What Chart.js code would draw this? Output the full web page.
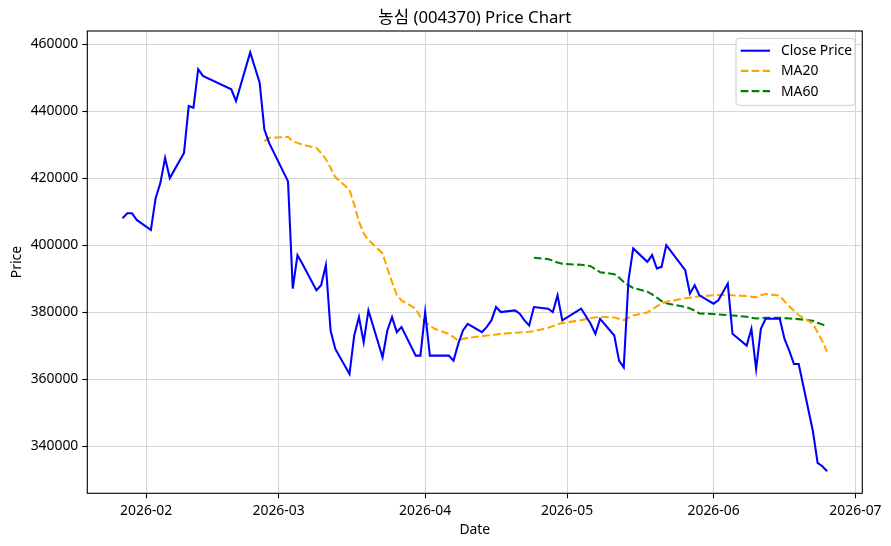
<!DOCTYPE html>
<html><head><meta charset="utf-8">
<script src="https://cdn.jsdelivr.net/npm/chart.js@4.4.1/dist/chart.umd.min.js"></script>
<style>html,body{margin:0;padding:0;background:#fff;}#c{display:block;}</style>
</head><body>
<canvas id="c" width="891" height="546"></canvas>
<script>
const titleText = '농심 (004370) Price Chart';
const xAxisTitle = 'Date';
const yAxisTitle = 'Price';
const seriesLabels = ['Close Price', 'MA20', 'MA60'];

const dates = [
 '2026-01-27','2026-01-28','2026-01-29','2026-01-30',
 '2026-02-02','2026-02-03','2026-02-04','2026-02-05','2026-02-06',
 '2026-02-09','2026-02-10','2026-02-11','2026-02-12','2026-02-13',
 '2026-02-19','2026-02-20','2026-02-23','2026-02-24','2026-02-25','2026-02-26','2026-02-27',
 '2026-03-03','2026-03-04','2026-03-05','2026-03-06',
 '2026-03-09','2026-03-10','2026-03-11','2026-03-12','2026-03-13',
 '2026-03-16','2026-03-17','2026-03-18','2026-03-19','2026-03-20',
 '2026-03-23','2026-03-24','2026-03-25','2026-03-26','2026-03-27',
 '2026-03-30','2026-03-31','2026-04-01','2026-04-02','2026-04-03',
 '2026-04-06','2026-04-07','2026-04-08','2026-04-09','2026-04-10',
 '2026-04-13','2026-04-14','2026-04-15','2026-04-16','2026-04-17',
 '2026-04-20','2026-04-21','2026-04-22','2026-04-23','2026-04-24',
 '2026-04-27','2026-04-28','2026-04-29','2026-04-30',
 '2026-05-04','2026-05-06','2026-05-07','2026-05-08',
 '2026-05-11','2026-05-12','2026-05-13','2026-05-14','2026-05-15',
 '2026-05-18','2026-05-19','2026-05-20','2026-05-21','2026-05-22',
 '2026-05-26','2026-05-27','2026-05-28','2026-05-29',
 '2026-06-01','2026-06-02','2026-06-04','2026-06-05',
 '2026-06-08','2026-06-09','2026-06-10','2026-06-11','2026-06-12',
 '2026-06-15','2026-06-16','2026-06-17','2026-06-18','2026-06-19',
 '2026-06-22','2026-06-23','2026-06-24','2026-06-25'
];

const closePrice = [
 408000,409500,409500,407500,
 404500,414000,418500,426000,420000,
 427500,441500,441000,452500,450500,
 446500,443000,457500,453000,448500,434500,430500,
 419000,387000,397000,394500,
 386500,388000,394000,374500,369000,
 361500,373000,378500,371000,380500,
 366500,374500,378500,374000,375500,
 367000,367000,380000,367000,367000,
 367000,365500,370500,374500,376500,
 374000,375500,377500,381500,380000,
 380500,379500,377500,376000,381500,
 381000,380000,385000,377500,
 381000,376500,373500,378000,
 373000,365500,363500,389500,399000,
 395000,397000,393000,393500,400000,
 392500,385500,388000,385000,
 382500,383500,388500,373500,
 370000,375000,363000,375000,378000,
 378000,372000,368500,364500,364500,
 344500,335000,334000,332500
];

// MA20 begins on the 20th trading day (2026-02-26)
const ma20StartIndex = 19;
const ma20 = [
 431000,432000,
 432300,431000,430500,430000,
 429000,427500,425700,423000,420300,
 416500,412000,407000,403500,401500,
 397500,393000,389000,385100,383500,
 381000,378500,377000,376000,375000,
 373500,372500,371500,372000,372300,
 372800,373000,373100,373300,373500,
 373800,373900,374000,374100,374300,
 375300,375800,376300,376700,
 377600,378200,378400,378600,
 378400,378000,377600,378300,379000,
 379900,380800,381700,382500,383100,
 384100,384300,384500,384700,
 385000,385100,385100,385000,
 384800,384600,384400,385000,385400,
 384900,383200,381700,380400,379100,
 376500,374000,371300,368200
];

// MA60 begins on the 60th trading day (2026-04-24)
const ma60StartIndex = 59;
const ma60 = [
 396200,
 395800,395300,394800,394400,
 394100,393700,392800,391900,
 391300,390300,389000,388000,387200,
 386100,385300,384300,383300,382600,
 381500,381100,380400,379600,
 379400,379300,379100,379000,
 378600,378300,378100,378200,378300,
 378300,378200,378100,378000,377900,
 377400,376800,376300,375800
];

const xTickDates = ['2026-02-01','2026-03-01','2026-04-01','2026-05-01','2026-06-01','2026-07-01'];
const xTickLabels = ['2026-02','2026-03','2026-04','2026-05','2026-06','2026-07'];
const yTicks = [340000,360000,380000,400000,420000,440000,460000];
const yMin = 325900, yMax = 463900;

const colors = ['#0000ff', '#ffa500', '#008000'];
const FONT = "'Noto Sans','Noto Sans CJK KR',sans-serif";

function dayNum(s){ const [y,m,d] = s.split('-').map(Number); return Date.UTC(y,m-1,d)/86400000; }

const xs = dates.map(dayNum);
const span = xs[xs.length-1] - xs[0];
const xMin = xs[0] - 0.05*span, xMax = xs[xs.length-1] + 0.05*span;

const closePts = closePrice.map((v,i)=>({x:xs[i], y:v}));
const ma20Pts = ma20.map((v,i)=>({x:xs[ma20StartIndex+i], y:v}));
const ma60Pts = ma60.map((v,i)=>({x:xs[ma60StartIndex+i], y:v}));

const LW = 2.08, DASH = [7.7, 3.3];

const framePlugin = {
  id: 'frameTitleLegend',
  afterDraw(chart){
    const {ctx, chartArea:a} = chart;
    ctx.save();
    // axes frame
    ctx.strokeStyle = '#000'; ctx.lineWidth = 1.1;
    ctx.strokeRect(a.left, a.top, a.right-a.left, a.bottom-a.top);
    // title
    ctx.fillStyle = '#000';
    ctx.font = '16.7px ' + FONT;
    ctx.textAlign = 'center'; ctx.textBaseline = 'alphabetic';
    ctx.fillText(titleText, (a.left+a.right)/2, a.top - 8.3);
    // legend
    const bw = 119, bh = 67;
    const bx = a.right - 7.3 - bw, by = a.top + 7.3;
    ctx.beginPath();
    if (ctx.roundRect) ctx.roundRect(bx, by, bw, bh, 3); else ctx.rect(bx, by, bw, bh);
    ctx.fillStyle = 'rgba(255,255,255,0.8)'; ctx.fill();
    ctx.strokeStyle = '#cccccc'; ctx.lineWidth = 1; ctx.stroke();
    ctx.font = '13.9px ' + FONT;
    ctx.textAlign = 'left'; ctx.textBaseline = 'middle';
    chart.data.datasets.forEach((ds, i) => {
      const yy = by + 12.4 + i*20.2;
      ctx.beginPath();
      ctx.strokeStyle = ds.borderColor; ctx.lineWidth = LW;
      ctx.setLineDash(ds.borderDash || []);
      ctx.moveTo(bx + 4.7, yy); ctx.lineTo(bx + 34, yy); ctx.stroke();
      ctx.setLineDash([]);
      ctx.fillStyle = '#000';
      ctx.fillText(ds.label, bx + 45, yy + 0.5);
    });
    ctx.restore();
  }
};

new Chart(document.getElementById('c'), {
  type: 'line',
  data: {
    datasets: [
      {label: seriesLabels[0], data: closePts, borderColor: colors[0], backgroundColor: colors[0], borderWidth: LW, pointRadius: 0, tension: 0, fill: false},
      {label: seriesLabels[1], data: ma20Pts, borderColor: colors[1], backgroundColor: colors[1], borderWidth: LW, borderDash: DASH, pointRadius: 0, tension: 0, fill: false},
      {label: seriesLabels[2], data: ma60Pts, borderColor: colors[2], backgroundColor: colors[2], borderWidth: LW, borderDash: DASH, pointRadius: 0, tension: 0, fill: false}
    ]
  },
  options: {
    responsive: false,
    animation: false,
    devicePixelRatio: 1,
    layout: {padding: {left: 0, top: 31, right: 28.7, bottom: 0}},
    font: {family: FONT},
    plugins: {legend: {display: false}, title: {display: false}, tooltip: {enabled: false}},
    scales: {
      x: {
        type: 'linear', min: xMin, max: xMax,
        afterBuildTicks: (s) => { s.ticks = xTickDates.map(d => ({value: dayNum(d)})); },
        afterFit: (s) => { s.height = 546 - 493.3; },
        ticks: {
          autoSkip: false, maxRotation: 0, padding: 4.5, color: '#000',
          font: {family: FONT, size: 13.9},
          callback: (v) => { const i = xTickDates.map(dayNum).indexOf(v); return i >= 0 ? xTickLabels[i] : ''; }
        },
        grid: {color: '#d6d6d6', lineWidth: 1, tickColor: '#000', tickLength: 5, tickWidth: 1.1},
        border: {display: false},
        title: {display: true, text: xAxisTitle, color: '#000', font: {family: FONT, size: 13.9}, padding: {top: 0, bottom: 8}}
      },
      y: {
        type: 'linear', min: yMin, max: yMax,
        afterBuildTicks: (s) => { s.ticks = yTicks.map(v => ({value: v})); },
        afterFit: (s) => { s.width = 87.3; },
        ticks: {
          padding: 4, color: '#000',
          font: {family: FONT, size: 13.9},
          callback: (v) => String(v)
        },
        grid: {color: '#d6d6d6', lineWidth: 1, tickColor: '#000', tickLength: 5, tickWidth: 1.1},
        border: {display: false},
        title: {display: true, text: yAxisTitle, color: '#000', font: {family: FONT, size: 13.9}, padding: {top: 9.2, bottom: 0}}
      }
    }
  },
  plugins: [framePlugin]
});
</script>
</body></html>
